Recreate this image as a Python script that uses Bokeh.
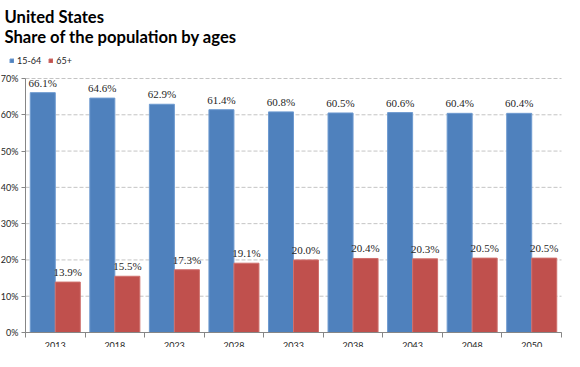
from bokeh.plotting import figure
from bokeh.models import (ColumnDataSource, Range1d, FixedTicker, PrintfTickFormatter,
                          Legend, LegendItem, LabelSet, Label, LinearAxis)
from bokeh.transform import dodge
from bokeh.embed import file_html
from bokeh.resources import INLINE

title_lines = ["United States", "Share of the population by ages"]
years = ["2013", "2018", "2023", "2028", "2033", "2038", "2043", "2048", "2050"]
working_age = [66.1, 64.6, 62.9, 61.4, 60.8, 60.5, 60.6, 60.4, 60.4]
elderly = [13.9, 15.5, 17.3, 19.1, 20.0, 20.4, 20.3, 20.5, 20.5]
series_names = ["15-64", "65+"]
y_ticks = [0, 10, 20, 30, 40, 50, 60, 70]

BLUE = "#4F81BD"
RED = "#C0504D"
BLUE_EDGE = "#6E9AD0"
RED_EDGE = "#CF706D"
AXIS = "#868686"
FONT = "Lato"
TXT = "#262626"
W, H = 562, 347

# layout geometry (pixels inside the figure; the frame covers the whole figure)
PLOT_L, PLOT_R = 25, 561      # plotting area left/right edges
PLOT_T, PLOT_B = 78, 332      # 70% line / 0% line
n = len(years)
cat_w = (PLOT_R - PLOT_L) / n
x_lo = 0.5 - PLOT_L / cat_w
x_hi = n + 0.5 + (W - PLOT_R) / cat_w
px_per = (PLOT_B - PLOT_T) / y_ticks[-1]
y_hi = y_ticks[-1] + PLOT_T / px_per
y_lo = -(H - PLOT_B) / px_per

pos = list(range(1, n + 1))
src = ColumnDataSource(dict(
    x=pos, a=working_age, b=elderly,
    al=[f"{v:.1f}%" for v in working_age],
    bl=[f"{v:.1f}%" for v in elderly],
))

p = figure(width=W, height=H, output_backend="svg", toolbar_location=None,
           x_range=Range1d(x_lo, x_hi), y_range=Range1d(y_lo, y_hi), title=None,
           y_axis_location=None, x_axis_location=None,
           min_border_left=0, min_border_right=0, min_border_top=0, min_border_bottom=0)
p.outline_line_color = None
p.grid.visible = False

# dashed horizontal gridlines across the plotting area only
p.segment(x0=[0.5] * len(y_ticks), x1=[n + 0.5] * len(y_ticks), y0=y_ticks, y1=y_ticks,
          line_color="#C4C4C4", line_dash="4 2", line_width=1)

r1 = p.vbar(x=dodge("x", -0.21), top="a", width=0.42, source=src,
            fill_color=BLUE, line_color=BLUE_EDGE, line_width=1)
r2 = p.vbar(x=dodge("x", 0.21), top="b", width=0.42, source=src,
            fill_color=RED, line_color=RED_EDGE, line_width=1)

for col, lab, dx in (("a", "al", -0.21), ("b", "bl", 0.21)):
    p.add_layout(LabelSet(x=dodge("x", dx), y=col, text=lab, source=src,
                          text_align="center", text_baseline="bottom", y_offset=4,
                          text_font=FONT, text_font_size="11px", text_color=TXT))

# x axis pinned at 0%
xa = LinearAxis(fixed_location=0, bounds=(0.5, n + 0.5),
                ticker=FixedTicker(ticks=pos, minor_ticks=[i + 0.5 for i in range(0, n + 1)]),
                major_label_overrides={i: y for i, y in zip(pos, years)},
                major_tick_out=0, major_tick_in=0, minor_tick_out=5, minor_tick_in=0,
                minor_tick_line_color=AXIS, axis_line_color=AXIS,
                major_label_text_font=FONT, major_label_text_font_size="9px",
                major_label_text_color=TXT, major_label_standoff=4)
p.add_layout(xa, "below")

# y axis pinned at the left edge of the plotting area
ya = LinearAxis(fixed_location=0.5, bounds=(0, y_ticks[-1]),
                ticker=FixedTicker(ticks=y_ticks, minor_ticks=[]),
                formatter=PrintfTickFormatter(format="%d%%"),
                major_tick_out=4, major_tick_in=0, major_tick_line_color=AXIS,
                axis_line_color=AXIS, major_label_text_font=FONT,
                major_label_text_font_size="9px", major_label_text_color=TXT,
                major_label_standoff=3)
p.add_layout(ya, "left")

# titles
for txt, base in zip(title_lines, (16, 36)):
    p.add_layout(Label(x=4, y=H - base, x_units="screen", y_units="screen",
                       text=txt, text_font=FONT, text_font_size="16.6px",
                       text_font_style="bold", text_color="black",
                       text_baseline="alphabetic"))

legend = Legend(items=[LegendItem(label=series_names[0], renderers=[r1]),
                       LegendItem(label=series_names[1], renderers=[r2])],
                orientation="horizontal", location=(9, H - 66),
                label_text_font=FONT, label_text_font_size="9px", label_text_color=TXT,
                glyph_width=5, glyph_height=5, label_standoff=3, spacing=7,
                padding=2, margin=0, border_line_color=None, background_fill_alpha=0,
                label_height=9)
p.add_layout(legend)

open("out.html", "w").write(file_html(p, INLINE))
